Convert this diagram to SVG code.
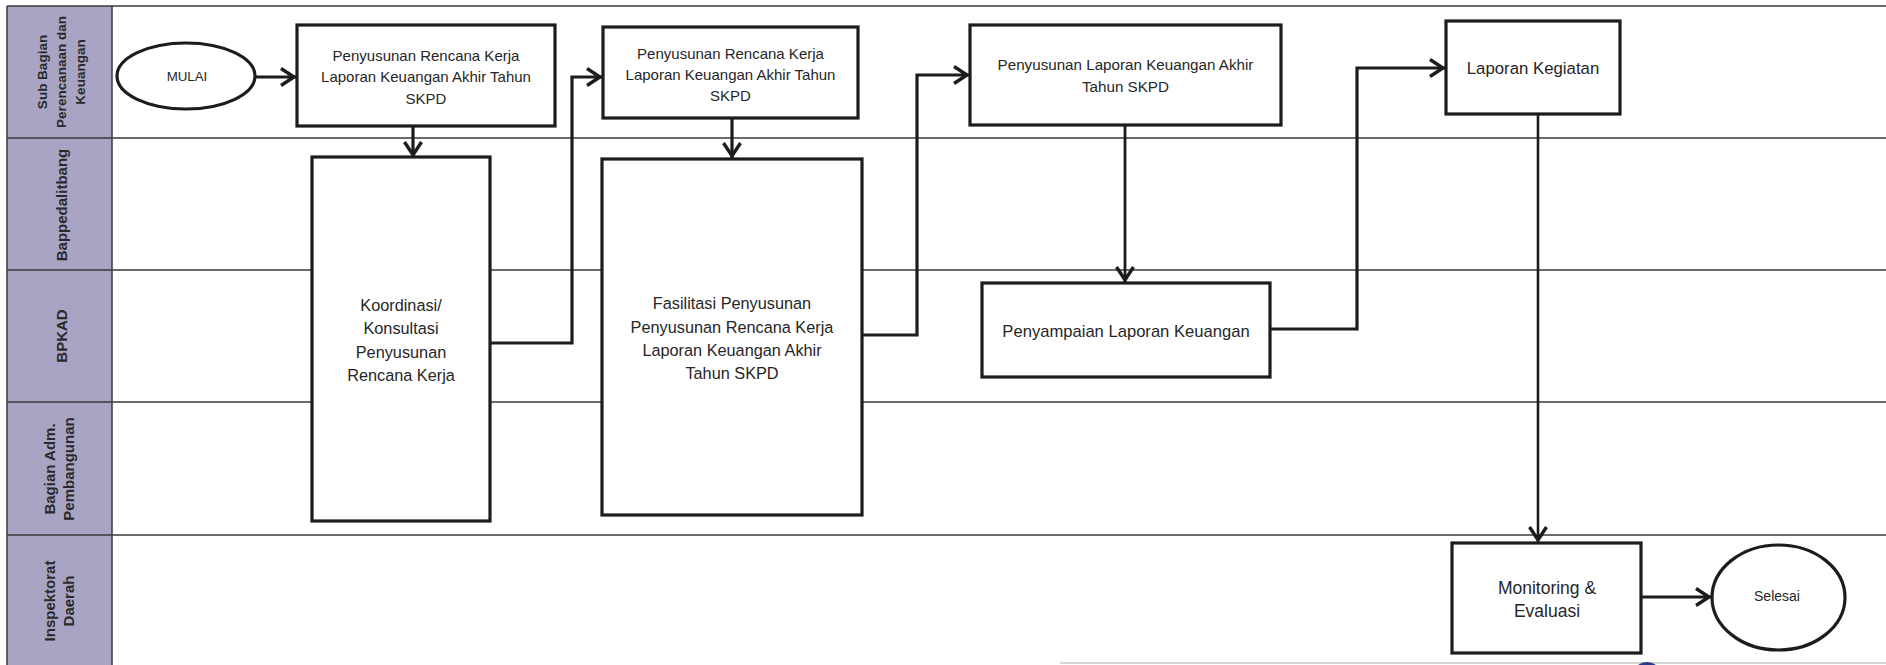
<svg xmlns="http://www.w3.org/2000/svg" width="1886" height="665" viewBox="0 0 1886 665">
<defs>
<style>
.lane{stroke:#3a3a3a;stroke-width:1.5;fill:none}
.hdr{fill:#a9a4c3}
.hl{font-family:"Liberation Sans",Arial,sans-serif;font-weight:bold;fill:#2a2a2a;text-anchor:middle}
.box{fill:#fff;stroke:#1c1c1c;stroke-width:3.2}
.t{font-family:"Liberation Sans",Arial,sans-serif;fill:#262626;text-anchor:middle}
.c{fill:none;stroke:#1c1c1c;stroke-width:3.2;marker-end:url(#arr)}
</style>
<marker id="arr" markerUnits="userSpaceOnUse" markerWidth="22" markerHeight="22" refX="16" refY="9.5" orient="auto" overflow="visible">
<path d="M1,1 L14,9.5 L1,18" fill="none" stroke="#1c1c1c" stroke-width="3.4" stroke-linejoin="miter"/>
</marker>
</defs>
<rect x="0" y="0" width="1886" height="665" fill="#ffffff"/>
<g id="lanes">
<rect class="hdr" x="7" y="6" width="105" height="659"/>
<line class="lane" x1="7" y1="6" x2="1886" y2="6"/>
<line class="lane" x1="7" y1="138" x2="1886" y2="138"/>
<line class="lane" x1="7" y1="270" x2="1886" y2="270"/>
<line class="lane" x1="7" y1="402" x2="1886" y2="402"/>
<line class="lane" x1="7" y1="535" x2="1886" y2="535"/>
<line class="lane" x1="7" y1="6" x2="7" y2="665"/>
<line class="lane" x1="112" y1="6" x2="112" y2="665"/>
<line x1="1060" y1="663" x2="1886" y2="663" stroke="#c8c8c8" stroke-width="1.5"/>
<circle cx="1647" cy="677" r="15" fill="#2a3a8a"/>
<g transform="translate(0,72) rotate(-90)">
<text class="hl" font-size="13.5" x="0" y="47">Sub Bagian</text>
<text class="hl" font-size="13.5" x="0" y="66">Perencanaan dan</text>
<text class="hl" font-size="13.5" x="0" y="85">Keuangan</text>
</g>
<text class="hl" font-size="15" transform="translate(67,205) rotate(-90)" x="0" y="0">Bappedalitbang</text>
<text class="hl" font-size="15" transform="translate(67,336) rotate(-90)" x="0" y="0">BPKAD</text>
<g transform="translate(0,469) rotate(-90)">
<text class="hl" font-size="15" x="0" y="55">Bagian Adm.</text>
<text class="hl" font-size="15" x="0" y="74">Pembangunan</text>
</g>
<g transform="translate(0,601) rotate(-90)">
<text class="hl" font-size="15" x="0" y="55">Inspektorat</text>
<text class="hl" font-size="15" x="0" y="74">Daerah</text>
</g>
</g>
<g id="connectors">
<path class="c" d="M255,77 L296,77"/>
<path class="c" d="M413,126 L413,157"/>
<path class="c" d="M490,343 L572,343 L572,77 L602,77"/>
<path class="c" d="M732,118 L732,158"/>
<path class="c" d="M862,335 L917,335 L917,75 L969,75"/>
<path class="c" d="M1125,125 L1125,282" style="stroke-width:2.8"/>
<path class="c" d="M1270,329 L1357,329 L1357,68 L1445,68"/>
<path class="c" d="M1538,114 L1538,542" style="stroke-width:2.6"/>
<path class="c" d="M1641,597 L1711,597"/>
</g>
<g id="n-mulai">
<ellipse cx="186" cy="76" rx="69" ry="33" fill="#fff" stroke="#1c1c1c" stroke-width="3.2"/>
<text class="t" font-size="13.3" x="187" y="80.5">MULAI</text>
</g>
<g id="n-box1">
<rect class="box" x="297" y="25" width="258" height="101"/>
<text class="t" font-size="15" x="426" y="60.5">Penyusunan Rencana Kerja</text>
<text class="t" font-size="15" x="426" y="82">Laporan Keuangan Akhir Tahun</text>
<text class="t" font-size="15" x="426" y="103.5">SKPD</text>
</g>
<g id="n-koordinasi">
<rect class="box" x="312" y="157" width="178" height="364"/>
<text class="t" font-size="16.3" x="401" y="310.5">Koordinasi/</text>
<text class="t" font-size="16.3" x="401" y="333.5">Konsultasi</text>
<text class="t" font-size="16.3" x="401" y="357.5">Penyusunan</text>
<text class="t" font-size="16.3" x="401" y="380.5">Rencana Kerja</text>
</g>
<g id="n-box2">
<rect class="box" x="603" y="27" width="255" height="91"/>
<text class="t" font-size="15" x="730.5" y="58.5">Penyusunan Rencana Kerja</text>
<text class="t" font-size="15" x="730.5" y="79.5">Laporan Keuangan Akhir Tahun</text>
<text class="t" font-size="15" x="730.5" y="100.5">SKPD</text>
</g>
<g id="n-fasilitasi">
<rect class="box" x="602" y="159" width="260" height="356"/>
<text class="t" font-size="16.3" x="732" y="309">Fasilitasi Penyusunan</text>
<text class="t" font-size="16.3" x="732" y="333">Penyusunan Rencana Kerja</text>
<text class="t" font-size="16.3" x="732" y="356">Laporan Keuangan Akhir</text>
<text class="t" font-size="16.3" x="732" y="379">Tahun SKPD</text>
</g>
<g id="n-box3">
<rect class="box" x="970" y="25" width="311" height="100"/>
<text class="t" font-size="15.2" x="1125.5" y="69.5">Penyusunan Laporan Keuangan Akhir</text>
<text class="t" font-size="15.2" x="1125.5" y="91.5">Tahun SKPD</text>
</g>
<g id="n-penyampaian">
<rect class="box" x="982" y="283" width="288" height="94"/>
<text class="t" font-size="16.6" x="1126" y="337">Penyampaian Laporan Keuangan</text>
</g>
<g id="n-laporan">
<rect class="box" x="1446" y="21" width="174" height="93"/>
<text class="t" font-size="16.8" x="1533" y="74">Laporan Kegiatan</text>
</g>
<g id="n-monitoring">
<rect class="box" x="1452" y="543" width="189" height="110"/>
<text class="t" font-size="17.5" x="1547" y="594">Monitoring &amp;</text>
<text class="t" font-size="17.5" x="1547" y="617">Evaluasi</text>
</g>
<g id="n-selesai">
<ellipse cx="1778.5" cy="597.5" rx="66.5" ry="52.5" fill="#fff" stroke="#1c1c1c" stroke-width="3.2"/>
<text class="t" font-size="14" x="1777" y="601">Selesai</text>
</g>
</svg>
